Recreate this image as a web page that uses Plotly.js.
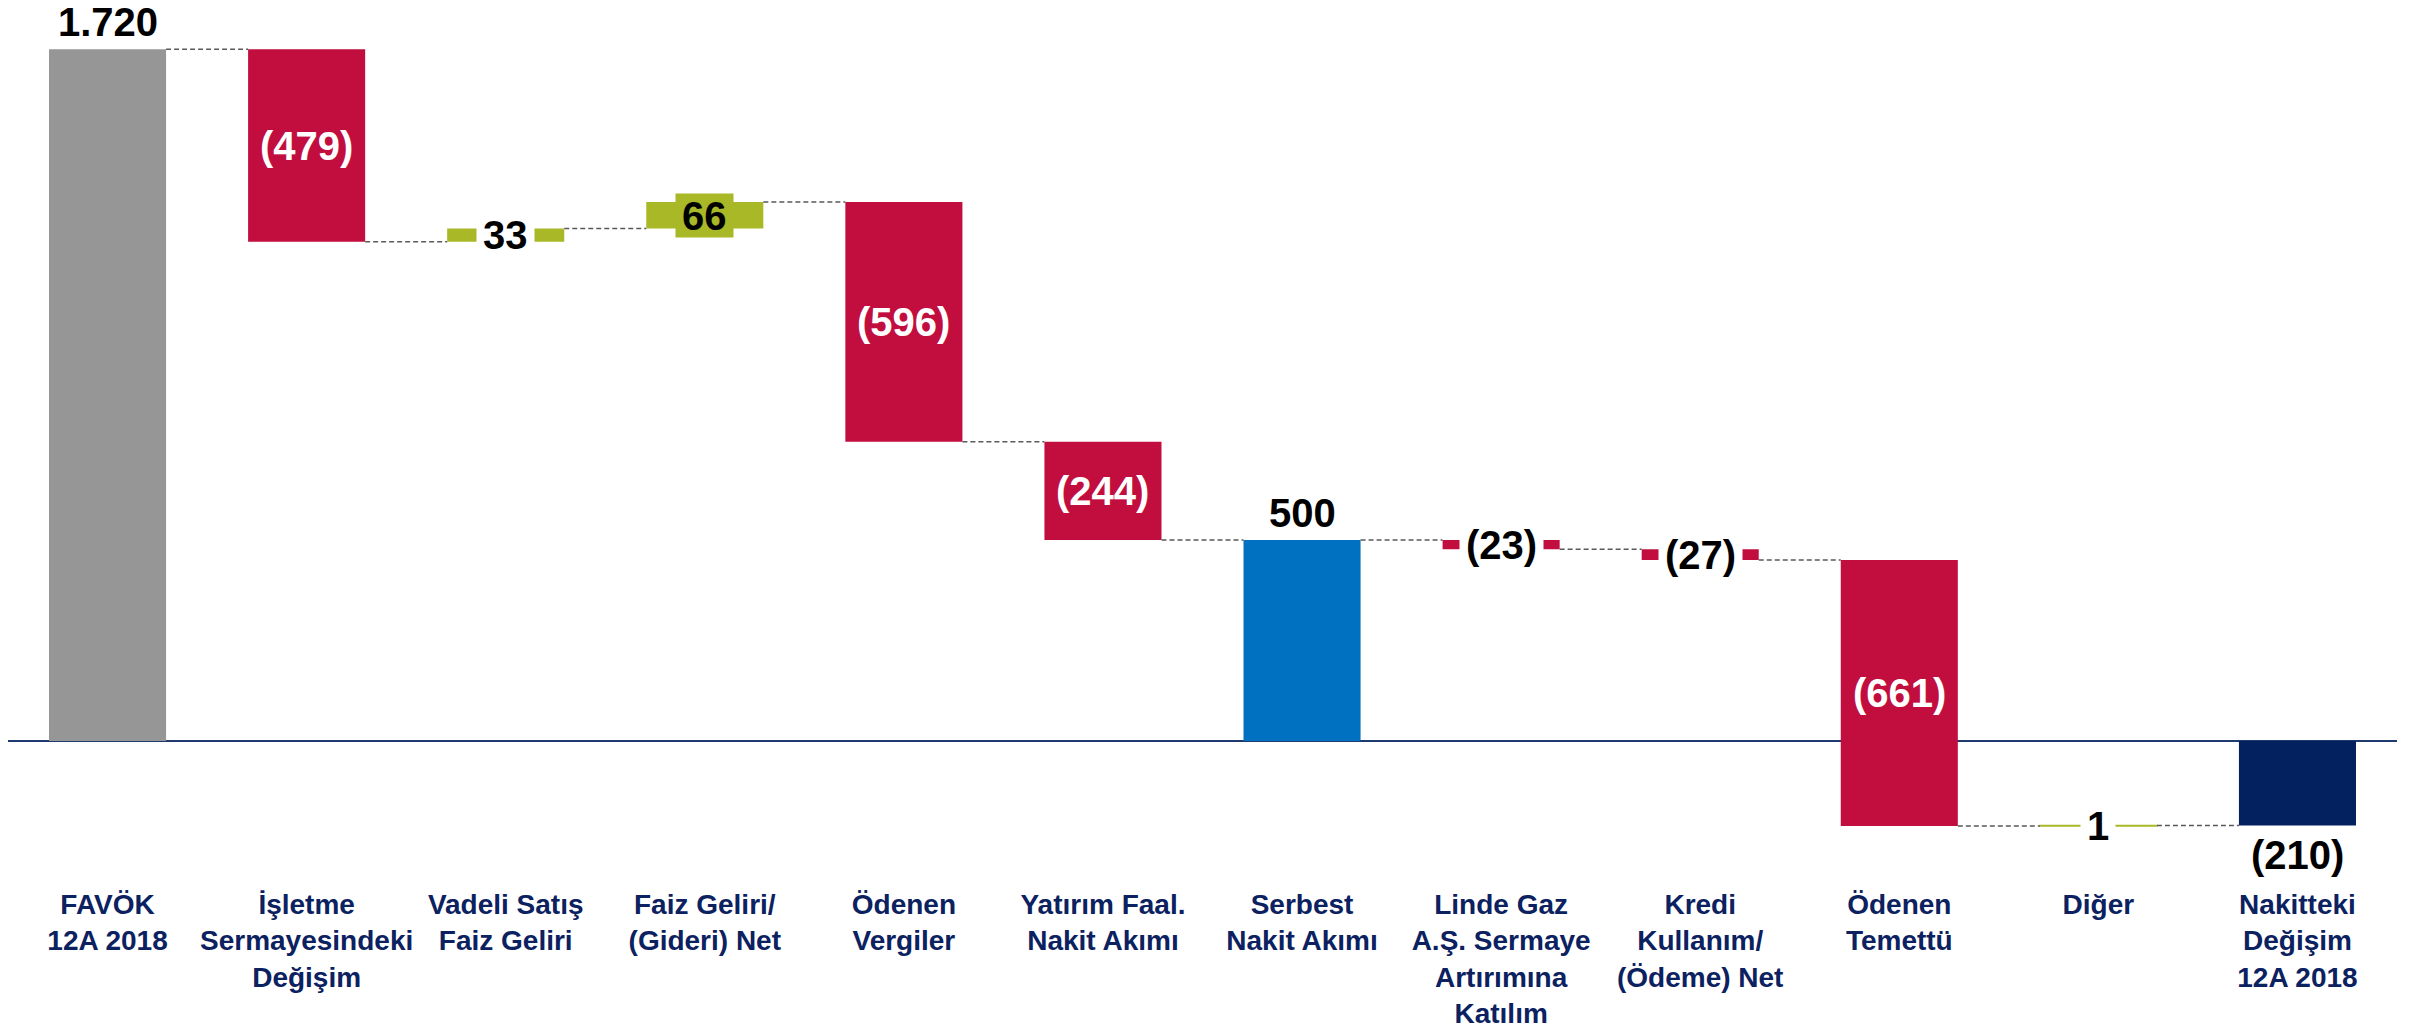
<!DOCTYPE html>
<html>
<head>
<meta charset="utf-8">
<script src="https://cdn.plot.ly/plotly-3.0.1.min.js"></script>
<style>
  html, body { margin: 0; padding: 0; background: #ffffff; }
  #chart { width: 2410px; height: 1032px; }
</style>
</head>
<body>
<div id="chart"></div>
<script>
// ---- data ----
const categories = [
  "FAVÖK<br>12A 2018",
  "İşletme<br>Sermayesindeki<br>Değişim",
  "Vadeli Satış<br>Faiz Geliri",
  "Faiz Geliri/<br>(Gideri) Net",
  "Ödenen<br>Vergiler",
  "Yatırım Faal.<br>Nakit Akımı",
  "Serbest<br>Nakit Akımı",
  "Linde Gaz<br>A.Ş. Sermaye<br>Artırımına<br>Katılım",
  "Kredi<br>Kullanım/<br>(Ödeme) Net",
  "Ödenen<br>Temettü",
  "Diğer",
  "Nakitteki<br>Değişim<br>12A 2018"
];
const values = [1720, -479, 33, 66, -596, -244, 500, -23, -27, -661, 1, -210];
const measures = ["absolute", "relative", "relative", "relative", "relative", "relative",
                  "total", "relative", "relative", "relative", "relative", "total"];
const valueLabels = ["1.720", "(479)", "33", "66", "(596)", "(244)", "500",
                     "(23)", "(27)", "(661)", "1", "(210)"];

// ---- styles ----
const GREY = "#969696", RED = "#C20E3E", GREEN = "#A8B826";
const TOTAL_COLORS = ["#0070C0", "#03215F"];
const LABEL_NAVY = "#0B2160";
const FONT = "Liberation Sans, Arial, sans-serif";
const BAR_FRACTION = 0.588;
const PX_PER_UNIT = 0.4022; // used only to decide label style

// ---- build waterfall geometry from the data ----
const xs = categories.map((_, i) => i);
const bases = [], heights = [], ends = [], colors = [], lineW = [];
let running = 0, totalIdx = 0;
values.forEach((v, i) => {
  const m = measures[i];
  if (m === "absolute") {
    bases.push(0); heights.push(v); running = v; colors.push(GREY);
  } else if (m === "total") {
    bases.push(0); heights.push(v); running = v;
    colors.push(TOTAL_COLORS[Math.min(totalIdx, TOTAL_COLORS.length - 1)]); totalIdx++;
  } else {
    bases.push(running); heights.push(v); running += v;
    colors.push(v >= 0 ? GREEN : RED);
  }
  ends.push(running);
  lineW.push(Math.abs(v) * PX_PER_UNIT < 2 ? 1.5 : 0);
});

const bars = {
  type: "bar",
  x: xs,
  y: heights,
  base: bases,
  width: BAR_FRACTION,
  marker: { color: colors, line: { color: colors, width: lineW } },
  hoverinfo: "skip",
  showlegend: false
};

// connectors between bars
const hw = BAR_FRACTION / 2;
const cx = [], cy = [];
for (let i = 0; i < values.length - 1; i++) {
  cx.push(i + hw, i + 1 - hw, null);
  cy.push(ends[i], ends[i], null);
}
const connectors = {
  type: "scatter", mode: "lines", x: cx, y: cy,
  line: { color: "#5a5a5a", width: 1.5, dash: "5px,3px" },
  hoverinfo: "skip", showlegend: false
};

// value labels
const annotations = values.map((v, i) => {
  const top = Math.max(bases[i], bases[i] + heights[i]);
  const bot = Math.min(bases[i], bases[i] + heights[i]);
  const mid = (top + bot) / 2;
  const pxH = Math.abs(heights[i]) * PX_PER_UNIT;
  const base = {
    x: i, text: valueLabels[i], showarrow: false, xref: "x", yref: "y",
    font: { family: FONT, size: 40, color: "#000000", weight: "bold" }
  };
  if (measures[i] !== "relative") {
    if (heights[i] >= 0) return Object.assign(base, { y: top, yanchor: "bottom", yshift: 3 });
    return Object.assign(base, { y: bot, yanchor: "top", yshift: -6 });
  }
  if (pxH > 60) {
    base.font.color = "#ffffff";
    return Object.assign(base, { y: mid, yanchor: "middle" });
  }
  if (pxH > 20) {
    return Object.assign(base, { y: mid, yanchor: "middle", bgcolor: colors[i], borderpad: 6, height: 31 });
  }
  return Object.assign(base, { y: mid, yanchor: "middle", bgcolor: "#ffffff", borderpad: 6 });
});

const layout = {
  width: 2410, height: 1032,
  margin: { l: 8, r: 13, t: 10, b: 162 },
  paper_bgcolor: "#ffffff", plot_bgcolor: "#ffffff",
  bargap: 1 - BAR_FRACTION,
  showlegend: false,
  xaxis: {
    range: [-0.5, values.length - 0.5],
    tickmode: "array", tickvals: xs, ticktext: categories,
    showgrid: false, zeroline: false, showline: false, ticks: "",
    ticklabelstandoff: 15,
    tickfont: { family: FONT, size: 28, color: LABEL_NAVY, weight: "bold" },
    fixedrange: true
  },
  yaxis: {
    range: [-320.7, 1817.5],
    showgrid: false, showticklabels: false, ticks: "",
    zeroline: true, zerolinecolor: "#1F3A6E", zerolinewidth: 2,
    showline: false, fixedrange: true
  },
  annotations: annotations
};

Plotly.newPlot("chart", [bars, connectors], layout, { displayModeBar: false, staticPlot: true });
</script>
</body>
</html>
